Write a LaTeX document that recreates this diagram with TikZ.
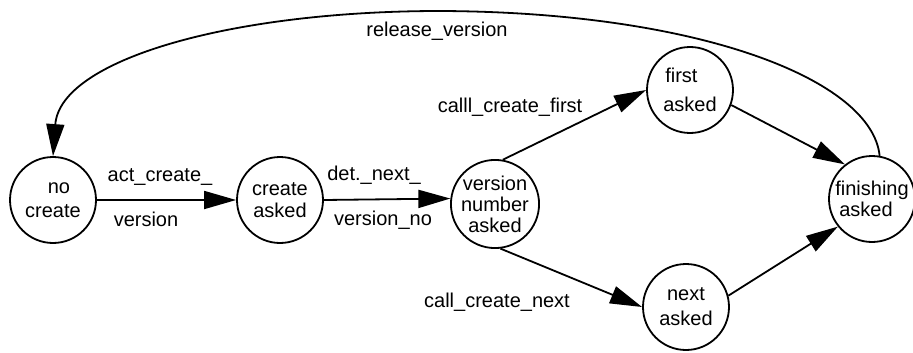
\documentclass[tikz,border=0pt]{standalone}
\usepackage{fontspec}
\setmainfont{Liberation Sans}
\usetikzlibrary{arrows.meta}
\newcommand\dfont[1]{\fontsize{20}{#1}\selectfont}
\tikzset{
  state/.style={circle, draw, line width=1.8pt, minimum size=86pt, inner sep=0pt},
  lbl/.style={inner sep=0pt, font=\dfont{22}},
  conn/.style={line width=1.8pt, -{Triangle[length=32pt,width=18pt]}}
}
\begin{document}
\begin{tikzpicture}[x=1pt,y=-1pt]
\useasboundingbox[fill=white] (0,0) rectangle (913,353);
\node[state, align=center, font=\dfont{24}] (nc) at (53,200) {\hspace*{12pt}no\\create};
\node[state, align=center, font=\dfont{22}] (ca) at (280,200) {create\\asked};
\node[state, align=center, font=\dfont{21}] (vn) at (495,204) {version\\number\\asked};
\node[state, align=left, font=\dfont{29}] (fa) at (690,90) {\hspace*{2pt}first\\asked};
\node[state, align=center, font=\dfont{25}] (na) at (686,307) {next\\asked};
\node[state, align=left, font=\dfont{21}] (fin) at (872,199) {finishing\\\hspace*{4pt}asked};

\draw[conn] (nc.east) -- (ca.west);
\draw[conn] (ca.east) -- (vn.173);
\draw[conn] (vn.80) -- (fa.180);
\draw[conn] (vn.-83) -- (na.180);
\draw[conn] (fa.-20) -- (fin.128);
\draw[conn] (na.15) -- (fin.219);
\draw[conn] (fin.80) .. controls (872,80) and (700,12) .. (440,11)
  .. controls (230,11) and (60,60) .. (nc.north);

\node[lbl] (l1) at (160,177) {act\_create\_};
\node[lbl] (l2) at (146,219) {version};
\node[lbl] (l3) at (374,175) {det.\_next\_};
\node[lbl] (l4) at (383,220) {version\_no};
\node[lbl] (l5) at (510,107) {calll\_create\_first};
\node[lbl] (l6) at (497,302) {call\_create\_next};
\node[lbl] (l7) at (437,31) {release\_version};
\end{tikzpicture}
\end{document}
